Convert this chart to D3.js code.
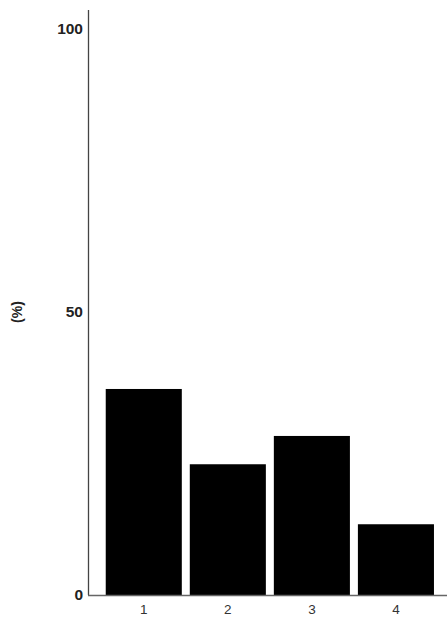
<!DOCTYPE html>
<html><head><meta charset="utf-8">
<script src="https://cdn.jsdelivr.net/npm/d3@7"></script>
<style>body{margin:0;background:#fff}svg{display:block}</style>
</head><body>
<svg id="c" width="447" height="619"></svg>
<script>
const categories = ["1", "2", "3", "4"];
const values = [36.4, 23.1, 28.1, 12.5];
const yTicks = [0, 50, 100];

const svg = d3.select("#c");
const x = d3.scaleBand().domain(categories).range([101.7, 438]).paddingInner(0.095).paddingOuter(0.048);
const y = d3.scaleLinear().domain([0, 100]).range([595, 29]);

svg.selectAll("rect.bar").data(values).join("rect")
  .attr("class", "bar")
  .attr("x", (d, i) => x(categories[i]))
  .attr("y", d => y(d))
  .attr("width", x.bandwidth())
  .attr("height", d => y(0) - y(d))
  .attr("fill", "#000");

// axes lines
svg.append("line").attr("x1", 88.5).attr("x2", 88.5).attr("y1", 10).attr("y2", y(0))
  .attr("stroke", "#444").attr("stroke-width", 1.3);
svg.append("line").attr("x1", 88).attr("x2", 447).attr("y1", y(0) + 0.5).attr("y2", y(0) + 0.5)
  .attr("stroke", "#666").attr("stroke-width", 1.3);

const yAxis = d3.axisLeft(y).tickValues(yTicks).tickSize(0).tickPadding(5).tickFormat(d3.format("d"));
const gy = svg.append("g").attr("transform", "translate(88,0)").call(yAxis);
gy.select(".domain").remove();
gy.selectAll("text").attr("font-family", "Liberation Sans, Arial, sans-serif")
  .attr("font-size", 15.5).attr("font-weight", "bold").attr("fill", "#222");

const xAxis = d3.axisBottom(x).tickSize(0).tickPadding(9);
const gx = svg.append("g").attr("transform", `translate(0,${y(0)})`).call(xAxis);
gx.select(".domain").remove();
gx.selectAll("text").attr("font-family", "Liberation Sans, Arial, sans-serif")
  .attr("font-size", 13.5).attr("fill", "#333");

svg.append("text").attr("transform", `translate(22,${y(50)}) rotate(-90)`)
  .attr("text-anchor", "middle").attr("font-family", "Liberation Sans, Arial, sans-serif")
  .attr("font-size", 14).attr("font-weight", "bold").attr("fill", "#222").text("(%)");
</script>
</body></html>
